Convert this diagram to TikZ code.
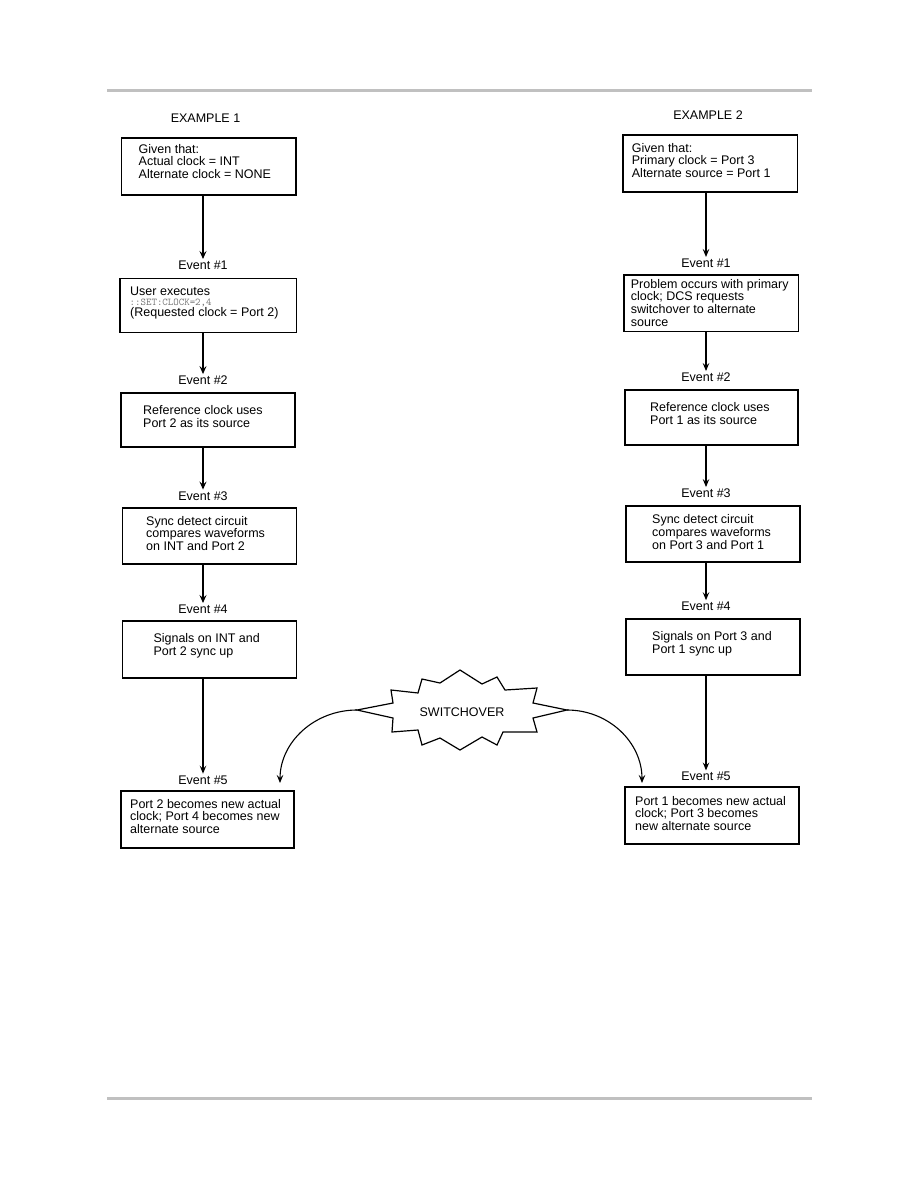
\documentclass[tikz,border=0pt]{standalone}
\usepackage{fontspec}
\setmainfont{Liberation Sans}
\usetikzlibrary{arrows.meta}
\definecolor{rulegray}{RGB}{192,192,192}
\definecolor{codegray}{RGB}{120,120,120}
\begin{document}
\begin{tikzpicture}[x=1pt,y=-1pt,
  box/.style={draw, line width=1.7pt, anchor=north west, inner sep=0pt},
  txt/.style={anchor=north west, align=left, inner sep=0pt, font=\fontsize{12.5}{12.6}\selectfont},
  linetxt/.style={anchor=base west, inner sep=0pt, font=\fontsize{12.5}{12.6}\selectfont},
  lab/.style={anchor=base, inner sep=1.5pt, font=\fontsize{12.5}{12.6}\selectfont},
  tarr/.style={line width=1.9pt, -{Stealth[length=8pt,width=7pt,inset=3pt]}},
  narr/.style={line width=1.1pt, -{Stealth[length=8pt,width=6.5pt,inset=3pt]}},
  hrule/.style={draw=rulegray, line width=3pt}]
\useasboundingbox (0,0) rectangle (918,1188);

% page rules
\draw[hrule] (107,91) -- (812,91);
\draw[hrule] (107,1098) -- (812,1098);

% titles
\node[lab] (T1) at (205.5,122.7) {EXAMPLE 1};
\node[lab] (T2) at (708,120) {EXAMPLE 2};

% ---------- left column ----------
\node[box, minimum width=174.3pt, minimum height=57pt] (L0) at (120.7,137.3) {};
\node[txt] (L0t) at (138.5,143.8) {Given that:\\Actual clock = INT\\Alternate clock = NONE};

\node[lab] (LE1) at (203,269.3) {Event \#1};
\node[box, minimum width=176.4pt, minimum height=54pt] (L1) at (119.3,277.7) {};
\node[linetxt] (L1a) at (130,295.2) {User executes};
\node[anchor=base west, inner sep=0pt, font=\ttfamily\fontsize{10.4}{10.5}\selectfont, text=codegray] (L1b) at (129.5,305.2) {::SET:CLOCK=2,4};
\node[linetxt] (L1c) at (130,316.3) {(Requested clock = Port 2)};

\node[lab] (LE2) at (203,384.5) {Event \#2};
\node[box, minimum width=174pt, minimum height=54pt] (L2) at (120,392) {};
\node[txt] (L2t) at (143,405.6) {Reference clock uses\\Port 2 as its source};

\node[lab] (LE3) at (203,500) {Event \#3};
\node[box, minimum width=174pt, minimum height=56pt] (L3) at (121.7,507.3) {};
\node[txt] (L3t) at (146,516.1) {Sync detect circuit\\compares waveforms\\on INT and Port 2};

\node[lab] (LE4) at (203,613.3) {Event \#4};
\node[box, minimum width=174pt, minimum height=57pt] (L4) at (121.7,620) {};
\node[txt] (L4t) at (153.3,633.4) {Signals on INT and\\Port 2 sync up};

\node[lab] (LE5) at (203,784) {Event \#5};
\node[box, minimum width=173.3pt, minimum height=57.3pt] (L5) at (120,790) {};
\node[txt] (L5t) at (130,798.8) {Port 2 becomes new actual\\clock; Port 4 becomes new\\alternate source};

\draw[tarr] (L0.south -| LE1) -- (LE1.north);
\draw[tarr] (L1.south -| LE2) -- (LE2.north);
\draw[tarr] (L2.south -| LE3) -- (LE3.north);
\draw[tarr] (L3.south -| LE4) -- (LE4.north);
\draw[narr] (L4.south -| LE5) -- (LE5.north);

% ---------- right column ----------
\node[box, minimum width=174.4pt, minimum height=56.7pt] (R0) at (622.3,134.3) {};
\node[txt] (R0t) at (631.7,142.8) {Given that:\\Primary clock = Port 3\\Alternate source = Port 1};

\node[lab] (RE1) at (706,267.3) {Event \#1};
\node[box, minimum width=174.4pt, minimum height=56.4pt] (R1) at (623.3,274.3) {};
\node[txt] (R1t) at (630.7,279.1) {Problem occurs with primary\\clock; DCS requests\\switchover to alternate\\source};

\node[lab] (RE2) at (706,381.5) {Event \#2};
\node[box, minimum width=173pt, minimum height=55pt] (R2) at (624,389) {};
\node[txt] (R2t) at (650,402.6) {Reference clock uses\\Port 1 as its source};

\node[lab] (RE3) at (706,497.5) {Event \#3};
\node[box, minimum width=174pt, minimum height=56pt] (R3) at (625,505) {};
\node[txt] (R3t) at (652,514.6) {Sync detect circuit\\compares waveforms\\on Port 3 and Port 1};

\node[lab] (RE4) at (706,610.5) {Event \#4};
\node[box, minimum width=174pt, minimum height=56pt] (R4) at (625,618) {};
\node[txt] (R4t) at (652,631.6) {Signals on Port 3 and\\Port 1 sync up};

\node[lab] (RE5) at (706,780.7) {Event \#5};
\node[box, minimum width=174.3pt, minimum height=57.3pt] (R5) at (624,786) {};
\node[txt] (R5t) at (635,796.1) {Port 1 becomes new actual\\clock; Port 3 becomes\\new alternate source};

\draw[narr] (R0.south -| RE1) -- (RE1.north);
\draw[narr] (R1.south -| RE2) -- (RE2.north);
\draw[narr] (R2.south -| RE3) -- (RE3.north);
\draw[narr] (R3.south -| RE4) -- (RE4.north);
\draw[narr] (R4.south -| RE5) -- (RE5.north);

% ---------- switchover burst ----------
\draw[line width=1.2pt, line join=miter]
  (357,710) -- (393,703) -- (391,690) -- (418,693) -- (422,679) -- (440,683)
  -- (460,670) -- (482,684) -- (497,677) -- (505,690) -- (537,688) -- (533,703)
  -- (567,710) -- (533,718) -- (537,732) -- (503,732) -- (497,745) -- (482,737)
  -- (460,750) -- (440,738) -- (422,745) -- (418,730) -- (392,732) -- (393,718)
  -- cycle;
\node[lab] (SW) at (462,716.7) {SWITCHOVER};
\coordinate (swl) at (357,710);
\coordinate (swr) at (567,710);
\coordinate (tl) at (280,783);
\coordinate (tr) at (642,783);
\draw[narr] (swl) .. controls (314.5,710) and (280,742) .. (tl);
\draw[narr] (swr) .. controls (608.4,710) and (642,742) .. (tr);
\end{tikzpicture}
\end{document}
